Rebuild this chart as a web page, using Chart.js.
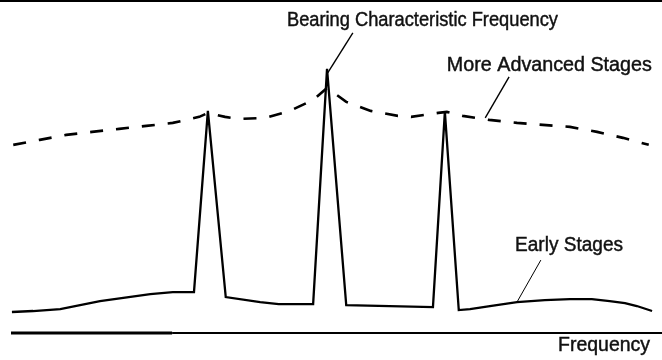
<!DOCTYPE html>
<html>
<head>
<meta charset="utf-8">
<title>Bearing defect spectrum</title>
<script src="https://cdn.jsdelivr.net/npm/chart.js@4/dist/chart.umd.min.js"></script>
<style>
  html, body { margin: 0; padding: 0; background: #fff; }
  canvas { display: block; }
</style>
</head>
<body>
<canvas id="spectrum" width="662" height="360"></canvas>
<script>
// Early-stage spectrum: low broadband floor with three sharp peaks
const earlyFreq = [1.8, 5.0, 9.1, 15.1, 22.7, 26.1, 29.3, 31.4, 34.1, 39.3, 42.1, 47.3, 49.4, 52.3,
                   65.4, 67.2, 69.3, 71.0, 74.0, 78.1, 82.3, 86.1, 89.4, 92.1, 94.4, 96.2, 98.5];
const earlyAmp  = [6.3, 6.6, 7.2, 9.6, 11.7, 12.3, 12.3, 66.7, 10.8, 9.3, 8.7, 8.7, 79.3, 8.4,
                   7.8, 66.4, 6.9, 7.2, 8.1, 9.3, 9.9, 10.2, 10.2, 9.6, 9.0, 8.1, 6.6];

// More advanced stages: raised noise floor that swallows the peaks
const advancedFreq = [2.0, 6.0, 10.0, 13.9, 18.0, 22.1, 26.1, 30.1, 31.4, 34.0, 36.0, 40.0, 43.8, 47.3,
                      49.4, 52.3, 56.0, 60.1, 62.1, 66.2, 67.5, 69.9, 73.9, 78.1, 82.0, 86.1, 90.2, 94.1, 98.0];
const advancedAmp  = [56.5, 58.0, 59.5, 60.4, 61.3, 62.2, 63.1, 64.9, 66.1, 64.9, 64.3, 64.6, 66.7, 70.0,
                      73.6, 69.4, 66.7, 65.2, 64.9, 66.1, 66.4, 65.2, 64.0, 63.1, 62.5, 61.9, 60.4, 58.6, 56.5];

// Callout texts, their anchor (frequency, amplitude) and leader lines
const calloutText   = ['Bearing Characteristic Frequency', 'More Advanced Stages', 'Early Stages', 'Frequency'];
const calloutAnchor = [[43.35, 92.2], [67.5, 78.7], [77.8, 24.5], [84.3, -5.4]];
const calloutWidth  = [271, 205, 108, 92];
const leaderFrom    = [[53.3, 90.1], [76.9, 76.9], [81.7, 21.9]];
const leaderTo      = [[49.5, 78.1], [73.3, 64.6], [78.1, 9.3]];
const leaderWidth   = [1.4, 1.4, 1.0];

const toPoints = (xs, ys) => xs.map((x, i) => ({ x, y: ys[i] }));

// narrow sans text, squeezed to the given width
function drawCondensed(ctx, text, x, y, width) {
  ctx.save();
  ctx.font = '20px "Liberation Sans", Arial, sans-serif';
  ctx.fillStyle = '#111';
  ctx.strokeStyle = '#111';
  ctx.lineWidth = 0.45;
  ctx.textBaseline = 'alphabetic';
  const w = ctx.measureText(text).width;
  ctx.translate(x, y);
  ctx.scale(width / w, 1);
  ctx.fillText(text, 0, 0);
  ctx.strokeText(text, 0, 0);
  ctx.restore();
}

const decorations = {
  id: 'decorations',
  afterDraw(chart) {
    const { ctx, chartArea, scales } = chart;
    const sx = v => scales.x.getPixelForValue(v);
    const sy = v => scales.y.getPixelForValue(v);
    ctx.save();
    ctx.strokeStyle = '#000';
    ctx.lineCap = 'butt';

    // frame line across the top
    ctx.lineWidth = 2;
    ctx.beginPath();
    ctx.moveTo(0, 1);
    ctx.lineTo(chart.width, 1);
    ctx.stroke();

    // frequency axis
    const axisY = chartArea.bottom;
    ctx.lineWidth = 3;
    ctx.beginPath();
    ctx.moveTo(chartArea.left, axisY);
    ctx.lineTo(sx(26.0), axisY);
    ctx.stroke();
    ctx.lineWidth = 2;
    ctx.beginPath();
    ctx.moveTo(sx(26.0), axisY);
    ctx.lineTo(chartArea.right, axisY);
    ctx.stroke();

    // leader lines
    leaderFrom.forEach((p, i) => {
      ctx.lineWidth = leaderWidth[i];
      ctx.beginPath();
      ctx.moveTo(sx(p[0]), sy(p[1]));
      ctx.lineTo(sx(leaderTo[i][0]), sy(leaderTo[i][1]));
      ctx.stroke();
    });
    ctx.restore();

    // callout texts
    calloutText.forEach((t, i) => {
      drawCondensed(ctx, t, sx(calloutAnchor[i][0]), sy(calloutAnchor[i][1]), calloutWidth[i]);
    });
  }
};

new Chart(document.getElementById('spectrum'), {
  type: 'line',
  data: {
    datasets: [
      {
        label: 'Early Stages',
        data: toPoints(earlyFreq, earlyAmp),
        borderColor: '#000',
        borderWidth: 2.3,
        pointRadius: 0,
        tension: 0,
        fill: false
      },
      {
        label: 'More Advanced Stages',
        data: toPoints(advancedFreq, advancedAmp),
        borderColor: '#000',
        borderWidth: 2.6,
        borderDash: [13, 13],
        borderCapStyle: 'butt',
        pointRadius: 0,
        tension: 0,
        fill: false
      }
    ]
  },
  options: {
    responsive: false,
    animation: false,
    devicePixelRatio: 1,
    layout: { padding: { left: 11, right: 0, top: 0, bottom: 27 } },
    plugins: { legend: { display: false }, tooltip: { enabled: false } },
    scales: {
      x: { type: 'linear', min: 1.66, max: 100, display: false },
      y: { type: 'linear', min: 0, max: 100, display: false }
    }
  },
  plugins: [decorations]
});
</script>
</body>
</html>
